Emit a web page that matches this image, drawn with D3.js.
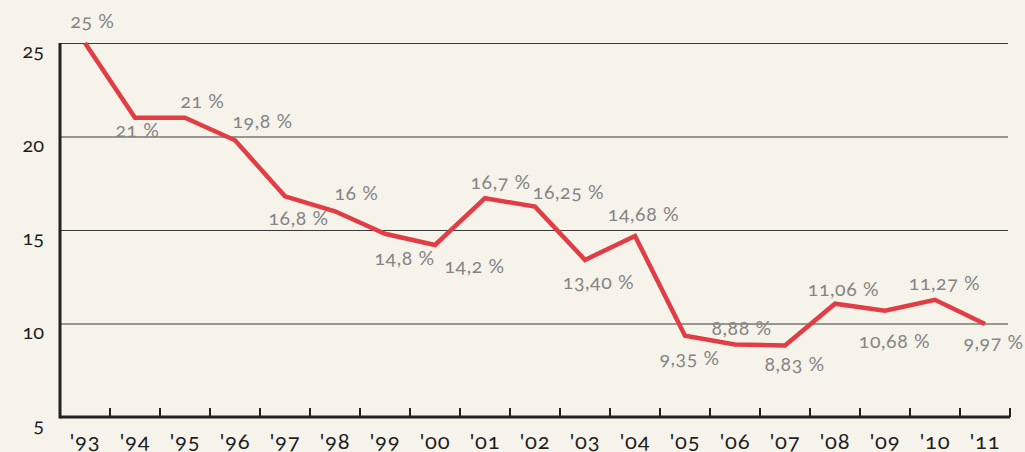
<!DOCTYPE html>
<html>
<head>
<meta charset="utf-8">
<script src="https://cdn.jsdelivr.net/npm/d3@7"></script>
<style>
  html, body { margin: 0; padding: 0; background: #f6f3eb; }
  svg { display: block; font-family: Lato, "Open Sans", sans-serif; font-feature-settings: "onum" 1; font-variant-numeric: oldstyle-nums; }
</style>
</head>
<body>
<div id="chart"></div>
<script>
// chart data
var years = ["'93","'94","'95","'96","'97","'98","'99","'00","'01","'02","'03","'04","'05","'06","'07","'08","'09","'10","'11"];
var rates = [25, 21, 21, 19.8, 16.8, 16, 14.8, 14.2, 16.7, 16.25, 13.40, 14.68, 9.35, 8.88, 8.83, 11.06, 10.68, 11.27, 9.97];
var rateLabels = ["25 %","21 %","21 %","19,8 %","16,8 %","16 %","14,8 %","14,2 %","16,7 %","16,25 %","13,40 %","14,68 %","9,35 %","8,88 %","8,83 %","11,06 %","10,68 %","11,27 %","9,97 %"];
var yTicks = [5, 10, 15, 20, 25];

// label placement (offset of label centre from the point, px)
var labelDx = [7, 2, 17, 27, 13, 21, 19, 39, 15, 33, 13, 8, 4, 6, 9, 8, 9, 9, 8];
var labelDy = [-22, 12, -17, -19, 22, -18, 24, 21, -16, -14, 22, -22, 23, -16, 19, -15, 30, -17, 18];

var margin = {top: 43, right: 15, bottom: 35, left: 60},
    width = 1025 - margin.left - margin.right,
    height = 452 - margin.top - margin.bottom;

var svg = d3.select("#chart")
    .append("svg")
    .attr("width", width + margin.left + margin.right)
    .attr("height", height + margin.top + margin.bottom)
    .append("g")
    .attr("transform", `translate(${margin.left},${margin.top})`);

var xScale = d3.scaleBand()
    .domain(years)
    .range([0, width]);

var yScale = d3.scaleLinear()
    .domain([5, 25])
    .range([height, 0]);

// gridlines
svg.append("g")
    .selectAll("line")
    .data(yTicks.filter(d => d > 5))
    .enter()
    .append("line")
    .attr("x1", 0)
    .attr("x2", width - 2)
    .attr("y1", d => yScale(d) + 0.5)
    .attr("y2", d => yScale(d) + 0.5)
    .attr("stroke", "#3a3a3a")
    .attr("stroke-width", 1);

// y tick labels (sit below their gridline)
svg.append("g")
    .selectAll("text")
    .data(yTicks)
    .enter()
    .append("text")
    .attr("x", -16)
    .attr("y", d => yScale(d) + 15)
    .attr("text-anchor", "end")
    .attr("fill", "#1e1e1e")
    .style("font-size", "20px")
    .text(d => d);

// x axis: ticks on band boundaries, pointing up
var xAxis = svg.append("g")
    .attr("transform", `translate(0, ${height})`);

xAxis.append("line")
    .attr("x1", 0)
    .attr("x2", width)
    .attr("stroke", "#222")
    .attr("stroke-width", 3);

xAxis.selectAll(".tick")
    .data(years.slice(1).concat(["end"]))
    .enter()
    .append("line")
    .attr("x1", (d, i) => xScale.step() * (i + 1))
    .attr("x2", (d, i) => xScale.step() * (i + 1))
    .attr("y1", 0)
    .attr("y2", -9)
    .attr("stroke", "#222")
    .attr("stroke-width", 2);

xAxis.selectAll("text")
    .data(years)
    .enter()
    .append("text")
    .attr("x", d => xScale(d) + xScale.bandwidth() / 2)
    .attr("y", 32)
    .attr("text-anchor", "middle")
    .attr("fill", "#1e1e1e")
    .style("font-size", "22px")
    .style("letter-spacing", "0.8px")
    .text(d => d);

// y axis line
svg.append("line")
    .attr("x1", 0)
    .attr("x2", 0)
    .attr("y1", 0)
    .attr("y2", height + 1.5)
    .attr("stroke", "#222")
    .attr("stroke-width", 3);

// the line
var pts = years.map((y, i) => ({year: y, value: rates[i], label: rateLabels[i], i: i}));

svg.append("path")
    .datum(pts)
    .attr("fill", "none")
    .attr("stroke", "#e23d45")
    .attr("stroke-width", 4.5)
    .attr("stroke-linejoin", "miter")
    .attr("d", d3.line()
        .x(d => xScale(d.year) + xScale.bandwidth() / 2)
        .y(d => yScale(d.value)));

// value labels
svg.append("g")
    .selectAll("text")
    .data(pts)
    .enter()
    .append("text")
    .attr("x", d => xScale(d.year) + xScale.bandwidth() / 2 + labelDx[d.i] + 0.5)
    .attr("y", d => yScale(d.value) + labelDy[d.i])
    .attr("dy", "0.35em")
    .attr("text-anchor", "middle")
    .attr("fill", "#858585")
    .style("font-size", "19.5px")
    .style("letter-spacing", "0.6px")
    .text(d => d.label);
</script>
</body>
</html>
